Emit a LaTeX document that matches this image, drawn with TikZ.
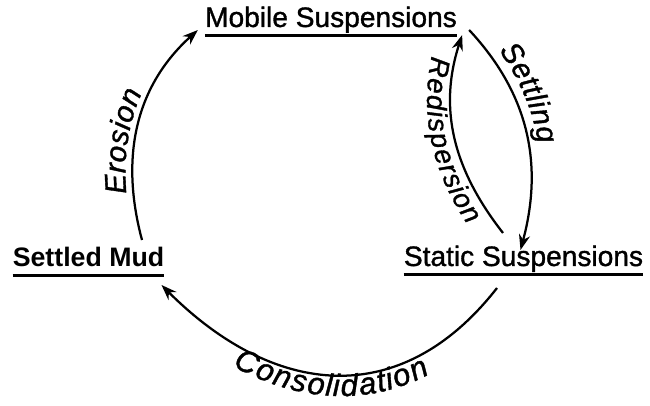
\documentclass[tikz,border=0pt]{standalone}
\usepackage{fontspec}
\setmainfont{Liberation Sans}
\newfontfamily\heavyfont[FakeBold=1.2]{Liberation Sans}
\usetikzlibrary{arrows.meta,decorations.text}

\newcommand{\lblfont}{\heavyfont\itshape\fontsize{21}{21}\selectfont}
\newcommand{\redlblfont}{\heavyfont\itshape\fontsize{19.5}{19.5}\selectfont}
\newcommand{\conlblfont}{\heavyfont\itshape\fontsize{22}{22}\selectfont}

\begin{document}
\begin{tikzpicture}
    [
        x = 0.025cm, y = 0.025cm,
        state/.style = {anchor = base, inner xsep = 0pt, inner ysep = 2pt, font = \heavyfont\fontsize{20}{20}\selectfont},
        mudstate/.style = {state, font = \bfseries\fontsize{19}{19}\selectfont},
        uline/.style = {line width = 2.2pt},
        flow/.style = {line width = 1.6pt, -{Stealth[length = 11pt, width = 8pt]}},
        backflow/.style = {line width = 1.6pt, {Stealth[length = 11pt, width = 8pt]}-}
    ]

        \useasboundingbox (0,0) rectangle (650,406);

        \node[state] (mobile) at (331,379) {Mobile Suspensions};
        \node[mudstate] (mud) at (88.5,139) {Settled Mud};
        \node[state] (static) at (523.5,140) {Static Suspensions};

        \draw[uline] ([yshift = -6]mobile.base west) -- ([yshift = -6]mobile.base east);
        \draw[uline] ([yshift = -6]mud.base west) -- ([yshift = -6]mud.base east);
        \draw[uline] ([yshift = -6]static.base west) -- ([yshift = -6]static.base east);

        \draw[flow, postaction = {decorate},
            decoration = {text along path, text = {|\lblfont|Erosion}, text align = {left, left indent = 34pt}, raise = 5pt}]
            ([shift = {(53.5,27)}]mud.base) to[out = 105, in = 222] ([shift = {(-7,-3)}]mobile.base west);

        \draw[flow, postaction = {decorate},
            decoration = {text along path, text = {|\lblfont|Settling}, text align = {left, left indent = 24pt}, raise = 7pt}]
            ([shift = {(12,-3)}]mobile.base east) to[out = -47, in = 75] ([shift = {(-3,16)}]static.base);

        \draw[backflow, postaction = {decorate},
            decoration = {text along path, text = {|\redlblfont|Redispersion}, text align = center, raise = -17pt}]
            ([shift = {(5,-8)}]mobile.base east) to[out = -108, in = 128] ([shift = {(-20.5,33)}]static.base);

        \draw[backflow, postaction = {decorate},
            decoration = {text along path, text = {|\conlblfont|Consolidation}, text align = center, raise = -15pt}]
            ([shift = {(-3,-18)}]mud.base east) to[out = -45, in = 232, looseness = 1.2] ([shift = {(-26.5,-22)}]static.base);
    \end{tikzpicture}
\end{document}
